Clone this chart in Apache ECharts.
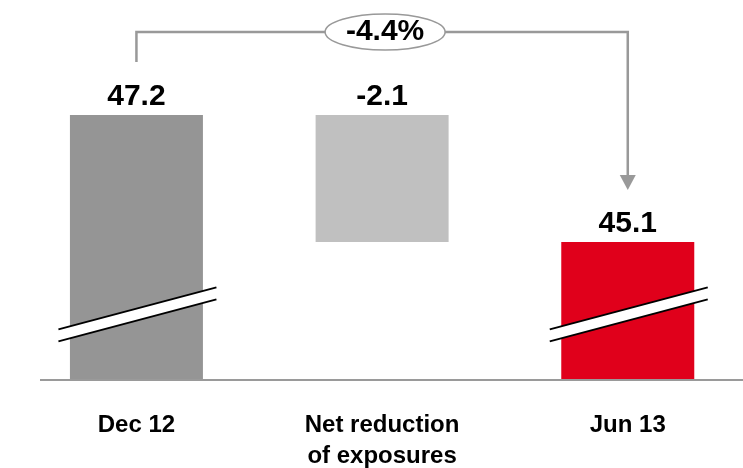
<!DOCTYPE html>
<html>
<head>
<meta charset="utf-8">
<script src="https://cdn.jsdelivr.net/npm/echarts@6/dist/echarts.min.js"></script>
<style>
  html, body { margin: 0; padding: 0; background: #fff; }
  #chart { width: 743px; height: 468px; }
</style>
</head>
<body>
<div id="chart"></div>
<script>
// data
var categories = ['Dec 12', 'Net reduction\nof exposures', 'Jun 13'];
var values = [47.2, -2.1, 45.1];     // start, change, end
var barColors = ['#959595', '#c0c0c0', '#e0001b'];
var changeLabel = '-4.4%';
var brokenBars = [0, 2];             // bars drawn with an axis break

// waterfall: invisible base + visible part
var base = [];
var visible = [];
var running = values[0];
values.forEach(function (v, i) {
  if (i === 0 || i === values.length - 1) {
    base.push(0);
    visible.push(Math.abs(v));
  } else {
    running = running + v;
    base.push(Math.min(running, running - v));
    visible.push(Math.abs(v));
  }
});

var FONT = 'Liberation Sans, Arial, sans-serif';
var chart = echarts.init(document.getElementById('chart'));

chart.setOption({
  animation: false,
  grid: { left: 13.6, width: 737, top: 20, bottom: 88, containLabel: false, outerBoundsMode: 'none' },
  xAxis: {
    type: 'category',
    data: categories,
    axisLine: { show: false },
    axisTick: { show: false },
    axisLabel: {
      margin: 30,
      color: '#000',
      fontFamily: FONT,
      fontWeight: 'bold',
      fontSize: 24,
      lineHeight: 31
    }
  },
  yAxis: {
    type: 'value',
    min: 42.82,
    max: 48.77,
    show: false,
    splitLine: { show: false }
  },
  series: [
    {
      type: 'bar',
      stack: 'wf',
      barWidth: 133,
      silent: true,
      itemStyle: { color: 'transparent' },
      data: base
    },
    {
      type: 'bar',
      stack: 'wf',
      barWidth: 133,
      data: visible.map(function (v, i) {
        return { value: v, itemStyle: { color: barColors[i] } };
      }),
      label: {
        show: true,
        position: 'top',
        distance: 3,
        color: '#000',
        fontFamily: FONT,
        fontWeight: 'bold',
        fontSize: 30,
        formatter: function (p) { return values[p.dataIndex].toFixed(1); }
      }
    }
  ]
});

// overlays placed from the chart's own coordinates
function px(i, v) { return chart.convertToPixel({ gridIndex: 0 }, [i, v]); }

var yMin = chart.convertToPixel({ gridIndex: 0 }, [0, 42.82])[1];
var graphics = [];

// baseline
graphics.push({
  type: 'line',
  z: 100,
  shape: { x1: 40, y1: yMin, x2: 743, y2: yMin },
  style: { stroke: '#9a9a9a', lineWidth: 2 }
});

// axis break marks
var breakValue = 43.9;
brokenBars.forEach(function (i) {
  var c = px(i, breakValue);
  var l = -78, r = 80, slope = -0.266, half = 6;
  var yl = c[1] + l * slope, yr = c[1] + r * slope;
  graphics.push({
    type: 'polygon',
    z: 100,
    shape: { points: [[c[0] + l, yl - half], [c[0] + r, yr - half], [c[0] + r, yr + half], [c[0] + l, yl + half]] },
    style: { fill: '#fff' }
  });
  graphics.push({
    type: 'line',
    z: 101,
    shape: { x1: c[0] + l, y1: yl - half, x2: c[0] + r, y2: yr - half },
    style: { stroke: '#000', lineWidth: 2 }
  });
  graphics.push({
    type: 'line',
    z: 101,
    shape: { x1: c[0] + l, y1: yl + half, x2: c[0] + r, y2: yr + half },
    style: { stroke: '#000', lineWidth: 2 }
  });
});

// change connector
var last = values.length - 1;
var p0 = px(0, values[0]);
var p1 = px(last, values[last]);
var topY = p0[1] - 83;
var tipY = p1[1] - 52;
graphics.push({
  type: 'polyline',
  z: 100,
  shape: { points: [[p0[0], p0[1] - 53], [p0[0], topY], [p1[0], topY], [p1[0], tipY - 14]] },
  style: { stroke: '#999', lineWidth: 2.5, fill: null }
});
graphics.push({
  type: 'polygon',
  z: 100,
  shape: { points: [[p1[0] - 8, tipY - 15], [p1[0] + 8, tipY - 15], [p1[0], tipY]] },
  style: { fill: '#999' }
});
var ex = px(1, 0)[0];
graphics.push({
  type: 'ellipse',
  z: 101,
  shape: { cx: ex + 3, cy: topY, rx: 60, ry: 18 },
  style: { fill: '#fff', stroke: '#999', lineWidth: 1.5 }
});
graphics.push({
  type: 'text',
  z: 102,
  x: ex + 3,
  y: topY,
  style: {
    text: changeLabel,
    fill: '#000',
    font: 'bold 30px ' + FONT,
    align: 'center',
    verticalAlign: 'middle'
  }
});

chart.setOption({ graphic: graphics });
</script>
</body>
</html>
